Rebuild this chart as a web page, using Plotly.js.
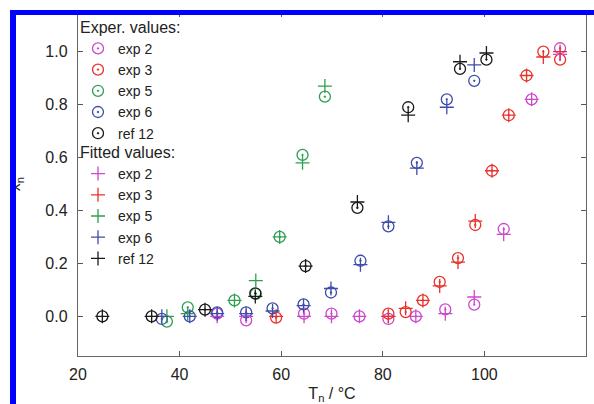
<!DOCTYPE html>
<html>
<head>
<meta charset="utf-8">
<script src="https://cdn.plot.ly/plotly-3.0.1.min.js"></script>
<style>
  html, body { margin: 0; padding: 0; background: #fff; }
  #wrap { position: relative; width: 594px; height: 404px; overflow: hidden; }
  #chart { position: absolute; left: 0; top: 0; width: 594px; height: 404px; }
  #frame { position: absolute; left: 10px; top: 10px; width: 600px; height: 420px;
           border-left: 6px solid #0000ff; border-top: 5px solid #0000ff; pointer-events: none; }
</style>
</head>
<body>
<div id="wrap"><div id="chart"></div><div id="frame"></div></div>
<script>
// ---- data ----
const exp2X   = [47.4, 53.1, 64.5, 69.9, 75.4, 81.1, 86.5, 92.3, 98.0, 103.8, 109.3, 114.9];
const exp2Y   = [0.01, -0.015, 0.01, 0.01, 0.0, -0.01, 0.0, 0.026, 0.044, 0.33, 0.82, 1.013];
const exp2Fit = [0.0, 0.0, 0.0, 0.0, 0.0, 0.0, 0.0, 0.01, 0.073, 0.31, 0.82, 0.99];

const exp3X   = [59.0, 81.1, 84.5, 87.9, 91.2, 94.8, 98.2, 101.5, 104.8, 108.3, 111.6, 114.9];
const exp3Y   = [-0.005, 0.01, 0.016, 0.06, 0.13, 0.22, 0.345, 0.55, 0.76, 0.91, 1.0, 0.97];
const exp3Fit = [0.0, 0.0, 0.03, 0.06, 0.115, 0.205, 0.36, 0.55, 0.76, 0.91, 0.98, 1.0];

const exp5X   = [37.5, 41.6, 50.8, 55.0, 59.7, 64.2, 68.6];
const exp5Y   = [-0.02, 0.034, 0.06, 0.085, 0.30, 0.61, 0.83];
const exp5Fit = [0.0, 0.01, 0.06, 0.135, 0.30, 0.58, 0.87];

const exp6X   = [36.5, 42.0, 47.4, 53.1, 58.3, 64.4, 69.8, 75.6, 81.1, 86.7, 92.6, 98.0];
const exp6Y   = [-0.01, 0.0, 0.015, 0.015, 0.03, 0.045, 0.09, 0.21, 0.34, 0.58, 0.82, 0.89];
const exp6Fit = [0.0, 0.0, 0.01, 0.01, 0.02, 0.04, 0.105, 0.195, 0.355, 0.56, 0.79, 0.95];

const ref12X   = [24.8, 34.5, 45.0, 54.9, 64.8, 75.0, 85.0, 95.2, 100.4];
const ref12Y   = [0.0, 0.0, 0.025, 0.087, 0.19, 0.41, 0.79, 0.935, 0.97];
const ref12Fit = [0.0, 0.0, 0.025, 0.075, 0.19, 0.432, 0.76, 0.962, 0.995];

const seriesNames = ['exp 2', 'exp 3', 'exp 5', 'exp 6', 'ref 12'];
const xTickVals = [20, 40, 60, 80, 100, 120];
const yTickVals = [0.0, 0.2, 0.4, 0.6, 0.8, 1.0];

// ---- styling ----
const colors = ['#cc48cc', '#e8322c', '#2f9e52', '#3d4caa', '#1a1a1a'];
const xs = [exp2X, exp3X, exp5X, exp6X, ref12X];
const ys = [exp2Y, exp3Y, exp5Y, exp6Y, ref12Y];
const fits = [exp2Fit, exp3Fit, exp5Fit, exp6Fit, ref12Fit];
const FONT = 'Liberation Sans, Arial, sans-serif';
const LEGF = 14;
const LEGT = 16;

const traces = [];
for (let i = 0; i < 5; i++) {
  traces.push({
    x: xs[i], y: ys[i], type: 'scatter', mode: 'markers', name: seriesNames[i],
    legend: 'legend',
    marker: { symbol: 'circle-open-dot', size: 11, color: colors[i], line: { width: 1.3, color: colors[i] } }
  });
}
for (let i = 0; i < 5; i++) {
  traces.push({
    x: xs[i], y: fits[i], type: 'scatter', mode: 'markers', name: seriesNames[i],
    legend: 'legend2',
    marker: { symbol: 'cross-thin', size: 10, color: colors[i], line: { width: 1.3, color: colors[i] } }
  });
}

const layout = {
  width: 594, height: 404,
  margin: { l: 78, r: 8, t: 12, b: 48 },
  paper_bgcolor: '#ffffff', plot_bgcolor: '#ffffff',
  font: { family: FONT, size: 16, color: '#222' },
  showlegend: true,
  xaxis: {
    range: [20, 120], tickvals: xTickVals, ticks: 'inside', ticklen: 5, tickcolor: '#555',
    showline: true, linecolor: '#666', linewidth: 1.2, mirror: 'ticks', showgrid: false, zeroline: false,
    tickfont: { family: FONT, size: 16, color: '#222' }, ticklabelstandoff: 4,
    title: { text: 'T<sub>n</sub> / °C', font: { family: FONT, size: 16, color: '#222' }, standoff: 16 }
  },
  yaxis: {
    range: [-0.15, 1.15], tickvals: yTickVals, tickformat: '.1f', ticks: 'inside', ticklen: 5, tickcolor: '#555',
    showline: true, linecolor: '#666', linewidth: 1.2, mirror: 'ticks', showgrid: false, zeroline: false,
    tickfont: { family: FONT, size: 16, color: '#222' }, ticklabelstandoff: 6,
    title: { text: 'x<sub>n</sub>', font: { family: FONT, size: 16, color: '#222' }, standoff: 20 }
  },
  legend: {
    x: 0.0, y: 1.0, xanchor: 'left', yanchor: 'top', bgcolor: 'rgba(0,0,0,0)',
    title: { text: 'Exper. values:', font: { family: FONT, size: LEGT, color: '#222' } },
    font: { family: FONT, size: LEGF, color: '#222' }, tracegroupgap: 0, itemwidth: 30
  },
  legend2: {
    x: 0.0, y: 0.636, xanchor: 'left', yanchor: 'top', bgcolor: 'rgba(0,0,0,0)',
    title: { text: 'Fitted values:', font: { family: FONT, size: LEGT, color: '#222' } },
    font: { family: FONT, size: LEGF, color: '#222' }, tracegroupgap: 0, itemwidth: 30
  }
};

Plotly.newPlot('chart', traces, layout, { displayModeBar: false, staticPlot: true });
</script>
</body>
</html>
